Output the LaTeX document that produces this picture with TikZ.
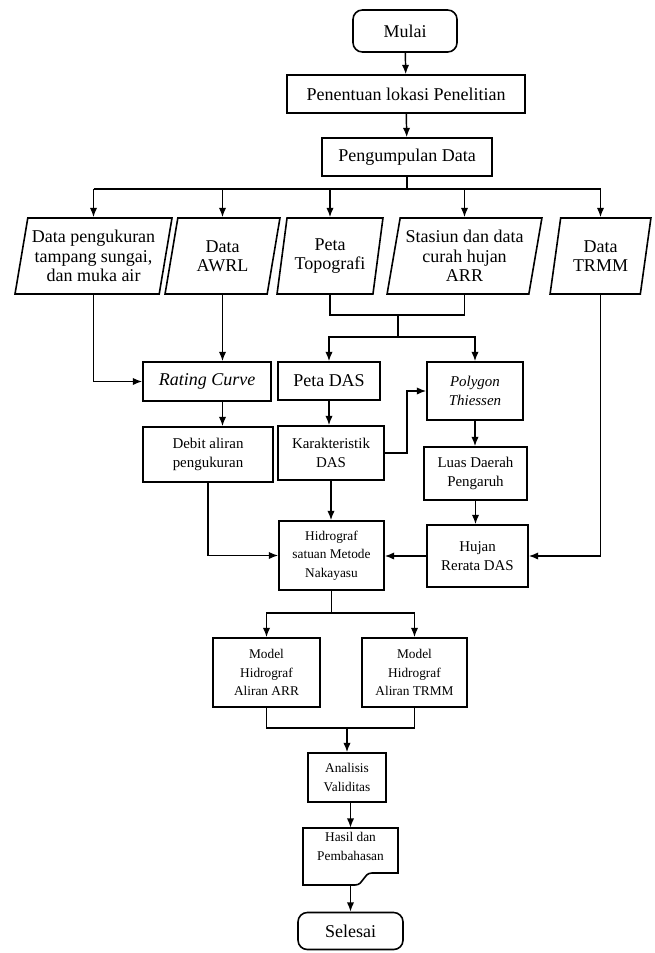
\documentclass[tikz,border=0pt]{standalone}
\usepackage{fontspec}
\setmainfont{Liberation Serif}
\usetikzlibrary{shapes.geometric,arrows.meta}
\tikzset{
 bx/.style={draw, line width=1.2pt, align=center, inner sep=1pt},
 big/.style={font=\fontsize{13.5}{14.5}\selectfont},
 med/.style={font=\fontsize{11.2}{14}\selectfont},
 sml/.style={font=\fontsize{10}{14}\selectfont},
 para/.style={bx, big, trapezium, trapezium left angle=77, trapezium right angle=103, trapezium stretches=true, minimum height=57pt, inner sep=0.5pt},
 ln/.style={line width=1.1pt},
 arr/.style={ln, -{Latex[length=7pt,width=5.5pt]}}
}
\begin{document}
\begin{tikzpicture}[x=0.75pt,y=-0.75pt]
\useasboundingbox (0,0) rectangle (654,953);
% nodes
\node[bx, big, rounded corners=7pt, minimum width=78pt, minimum height=31.5pt] (start) at (405,31) {Mulai};
\node[bx, big, minimum width=178.5pt, minimum height=28.5pt] (pen) at (406,94) {Penentuan lokasi Penelitian};
\node[bx, big, minimum width=127.5pt, minimum height=28.5pt] (kum) at (407,157) {Pengumpulan Data};
\node[para, minimum width=117.75pt] (p1) at (93.5,256) {Data pengukuran\\tampang sungai,\\dan muka air};
\node[para, minimum width=86.25pt] (p2) at (222.5,256) {Data\\AWRL};
\node[para, minimum width=79.5pt] (p3) at (330,256) {Peta\\Topografi};
\node[para, minimum width=116.25pt] (p4) at (464.5,256) {Stasiun dan data\\curah hujan\\ARR};
\node[para, minimum width=76pt] (p5) at (600.5,256) {Data\\TRMM};
\node[bx, big, minimum width=96pt, minimum height=29.25pt] (rc) at (207,381.5) {\itshape Rating Curve};
\node[bx, big, minimum width=76.5pt, minimum height=28.5pt] (pdas) at (329,381) {Peta DAS};
\node[bx, med, minimum width=72pt, minimum height=43.5pt] (poly) at (475,391) {\itshape Polygon\\\itshape Thiessen};
\node[bx, med, minimum width=97.5pt, minimum height=41.25pt] (deb) at (208,454.5) {Debit aliran\\pengukuran};
\node[bx, med, minimum width=79.5pt, minimum height=40.5pt] (kar) at (331,453) {Karakteristik\\DAS};
\node[bx, med, minimum width=77.25pt, minimum height=39.75pt] (luas) at (475.5,473.5) {Luas Daerah\\Pengaruh};
\node[bx, sml, minimum width=78.75pt, minimum height=51.75pt] (hid) at (331.5,555.5) {Hidrograf\\satuan Metode\\Nakayasu};
\node[bx, med, minimum width=75.75pt, minimum height=46.5pt] (huj) at (477.5,556) {Hujan\\Rerata DAS};
\node[bx, sml, minimum width=80.25pt, minimum height=51.75pt] (ma) at (266.5,672.5) {Model\\Hidrograf\\Aliran ARR};
\node[bx, sml, minimum width=78.75pt, minimum height=51.75pt] (mt) at (414.5,672.5) {Model\\Hidrograf\\Aliran TRMM};
\node[bx, sml, minimum width=58.5pt, minimum height=36.75pt] (ana) at (347,777.5) {Analisis\\Validitas};
\node[sml, align=center, minimum width=71.25pt, minimum height=42.75pt, inner sep=0pt] (has) at (350.5,856.5) {Hasil dan\\Pembahasan\\[-3pt]\strut};
\draw[line width=1.2pt] (303,828) -- (398,828) -- (398,873) -- (372,873) .. controls (363,873) and (364,885) .. (355,885) -- (303,885) -- cycle;
\node[bx, big, rounded corners=7pt, minimum width=78.75pt, minimum height=27.75pt] (end) at (350.5,931) {Selesai};
% connectors
\draw[arr] (start) -- (pen);
\draw[arr] (pen) -- (kum);
\coordinate (bus) at (407,189);
\draw[ln] (kum.south) -- (bus);
\draw[ln] (p1.north |- bus) -- (p5.north |- bus);
\foreach \p in {p1,p2,p3,p4,p5} \draw[arr] (\p.north |- bus) -- (\p.north);
\draw[arr] (p1.south) |- (rc.west);
\draw[arr] (p2.south) -- (p2.south |- rc.north);
\draw[arr] (p2.south |- rc.south) -- (p2.south |- deb.north);
\coordinate (m1) at (398,315);
\coordinate (m2) at (398,337);
\draw[ln] (p3.south) |- (m1);
\draw[ln] (p4.south) |- (m1);
\draw[ln] (m1) -- (m2);
\draw[arr] (m2) -| (pdas.north);
\draw[arr] (m2) -| (poly.north);
\draw[arr] (pdas.south) -- (pdas.south |- kar.north);
\draw[arr] (kar.east) -- ++(22,0) |- (poly.west);
\draw[arr] (poly.south) -- (poly.south |- luas.north);
\draw[arr] (luas.south) -- (luas.south |- huj.north);
\draw[arr] (kar.south) -- (kar.south |- hid.north);
\draw[arr] (deb.south) |- (hid.west);
\draw[arr] (huj.west) -- (hid.east |- huj.west);
\draw[arr] (p5.south) |- (huj.east);
\coordinate (sp) at (331.5,613);
\draw[ln] (hid.south) -- (sp);
\draw[arr] (sp) -| (ma.north);
\draw[arr] (sp) -| (mt.north);
\coordinate (jn) at (347,728);
\draw[ln] (ma.south) |- (jn);
\draw[ln] (mt.south) |- (jn);
\draw[arr] (jn) -- (ana.north);
\draw[arr] (ana.south -| has.north) -- (has.north);
\draw[arr] (has.south) -- (end.north);
\end{tikzpicture}
\end{document}
